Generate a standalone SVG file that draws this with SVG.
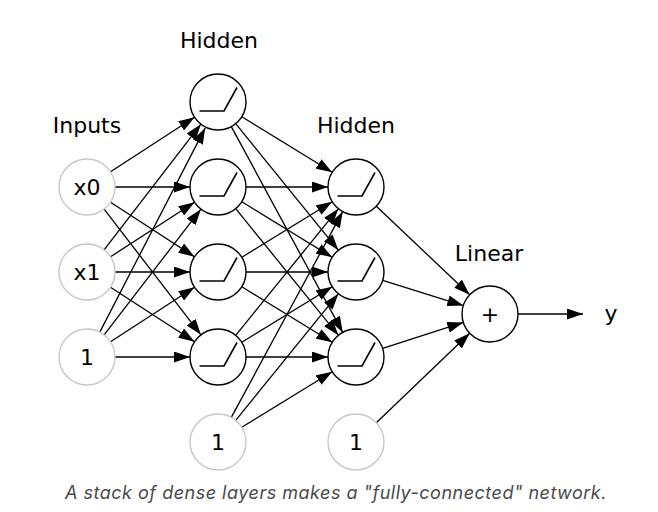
<svg xmlns="http://www.w3.org/2000/svg" width="658" height="512" viewBox="0 0 658 512">
<style>
.lbl{font-family:"DejaVu Sans",sans-serif;font-size:22px;fill:#000;text-anchor:middle}
.in{fill:#fff;stroke:#c8c8c8;stroke-width:1.4}
.hd{fill:#fff;stroke:#000;stroke-width:1.4}
.relu{fill:none;stroke:#000;stroke-width:1.6}
.e line{stroke:#000;stroke-width:1.3;marker-end:url(#ah)}
.cap{font-family:Inter,"Liberation Sans",sans-serif;font-style:italic;font-size:18px;letter-spacing:0.5px;fill:#4a4a4a;text-anchor:middle}
</style>
<defs>
<marker id="ah" markerUnits="userSpaceOnUse" markerWidth="16" markerHeight="11" viewBox="0 0 16 11" refX="16" refY="5.5" orient="auto">
<path d="M0,0 L16,5.5 L0,11 z" fill="#000"/>
</marker>
<path id="rl" d="M-18.5,9 H6 L19,-14.5"/>
</defs>
<rect width="658" height="512" fill="#fff"/>
<g id="labels">
<text class="lbl" x="87" y="133">Inputs</text>
<text class="lbl" x="219" y="48">Hidden</text>
<text class="lbl" x="356" y="133">Hidden</text>
<text class="lbl" x="489" y="261">Linear</text>
</g>
<g id="connectors" class="e">
<line x1="110.5" y1="171.8" x2="194.5" y2="117.2"/>
<line x1="115" y1="187" x2="190" y2="187"/>
<line x1="110.5" y1="202.2" x2="194.5" y2="256.8"/>
<line x1="104.1" y1="209.2" x2="200.9" y2="334.8"/>
<line x1="104.1" y1="249.8" x2="200.9" y2="124.2"/>
<line x1="110.5" y1="256.8" x2="194.5" y2="202.2"/>
<line x1="115" y1="272" x2="190" y2="272"/>
<line x1="110.5" y1="287.2" x2="194.5" y2="341.8"/>
<line x1="99.8" y1="332.1" x2="205.2" y2="127.9"/>
<line x1="104.1" y1="334.8" x2="200.9" y2="209.2"/>
<line x1="110.5" y1="341.8" x2="194.5" y2="287.2"/>
<line x1="115" y1="357" x2="190" y2="357"/>
<line x1="241.8" y1="116.7" x2="332.2" y2="172.3"/>
<line x1="235.7" y1="123.7" x2="338.4" y2="250.3"/>
<line x1="231.3" y1="126.6" x2="342.7" y2="332.4"/>
<line x1="246" y1="187" x2="328" y2="187"/>
<line x1="241.8" y1="201.7" x2="332.2" y2="257.3"/>
<line x1="235.7" y1="208.7" x2="338.4" y2="335.3"/>
<line x1="241.8" y1="257.3" x2="332.2" y2="201.7"/>
<line x1="246" y1="272" x2="328" y2="272"/>
<line x1="241.8" y1="286.7" x2="332.2" y2="342.3"/>
<line x1="235.7" y1="335.3" x2="338.4" y2="208.7"/>
<line x1="241.8" y1="342.3" x2="332.2" y2="286.7"/>
<line x1="246" y1="357" x2="328" y2="357"/>
<line x1="231.3" y1="417.4" x2="342.7" y2="211.6"/>
<line x1="235.7" y1="420.3" x2="338.4" y2="293.7"/>
<line x1="241.8" y1="427.3" x2="332.2" y2="371.7"/>
<line x1="376.3" y1="206.3" x2="469.7" y2="294.7"/>
<line x1="382.7" y1="280.4" x2="463.3" y2="305.6"/>
<line x1="382.7" y1="348.4" x2="463.3" y2="322.4"/>
<line x1="376.3" y1="422.7" x2="469.7" y2="333.3"/>
<line x1="518" y1="314" x2="583" y2="314"/>
</g>
<g id="x0"><circle class="in" cx="87" cy="187" r="28"/><text class="lbl" x="87" y="195">x0</text></g>
<g id="x1"><circle class="in" cx="87" cy="272" r="28"/><text class="lbl" x="87" y="280">x1</text></g>
<g id="b0"><circle class="in" cx="87" cy="357" r="28"/><text class="lbl" x="87" y="365">1</text></g>
<g id="h1a"><circle class="hd" cx="218" cy="102" r="28"/><use href="#rl" class="relu" x="218" y="102"/></g>
<g id="h1b"><circle class="hd" cx="218" cy="187" r="28"/><use href="#rl" class="relu" x="218" y="187"/></g>
<g id="h1c"><circle class="hd" cx="218" cy="272" r="28"/><use href="#rl" class="relu" x="218" y="272"/></g>
<g id="h1d"><circle class="hd" cx="218" cy="357" r="28"/><use href="#rl" class="relu" x="218" y="357"/></g>
<g id="b1"><circle class="in" cx="218" cy="442" r="28"/><text class="lbl" x="218" y="450">1</text></g>
<g id="h2a"><circle class="hd" cx="356" cy="187" r="28"/><use href="#rl" class="relu" x="356" y="187"/></g>
<g id="h2b"><circle class="hd" cx="356" cy="272" r="28"/><use href="#rl" class="relu" x="356" y="272"/></g>
<g id="h2c"><circle class="hd" cx="356" cy="357" r="28"/><use href="#rl" class="relu" x="356" y="357"/></g>
<g id="b2"><circle class="in" cx="356" cy="442" r="28"/><text class="lbl" x="356" y="450">1</text></g>
<g id="out"><circle class="hd" cx="490" cy="314" r="28"/><text class="lbl" x="490" y="322">+</text></g>
<g id="y"><text class="lbl" x="611" y="321">y</text></g>
<text class="cap" x="336" y="499">A stack of dense layers makes a "fully-connected" network.</text>
</svg>
